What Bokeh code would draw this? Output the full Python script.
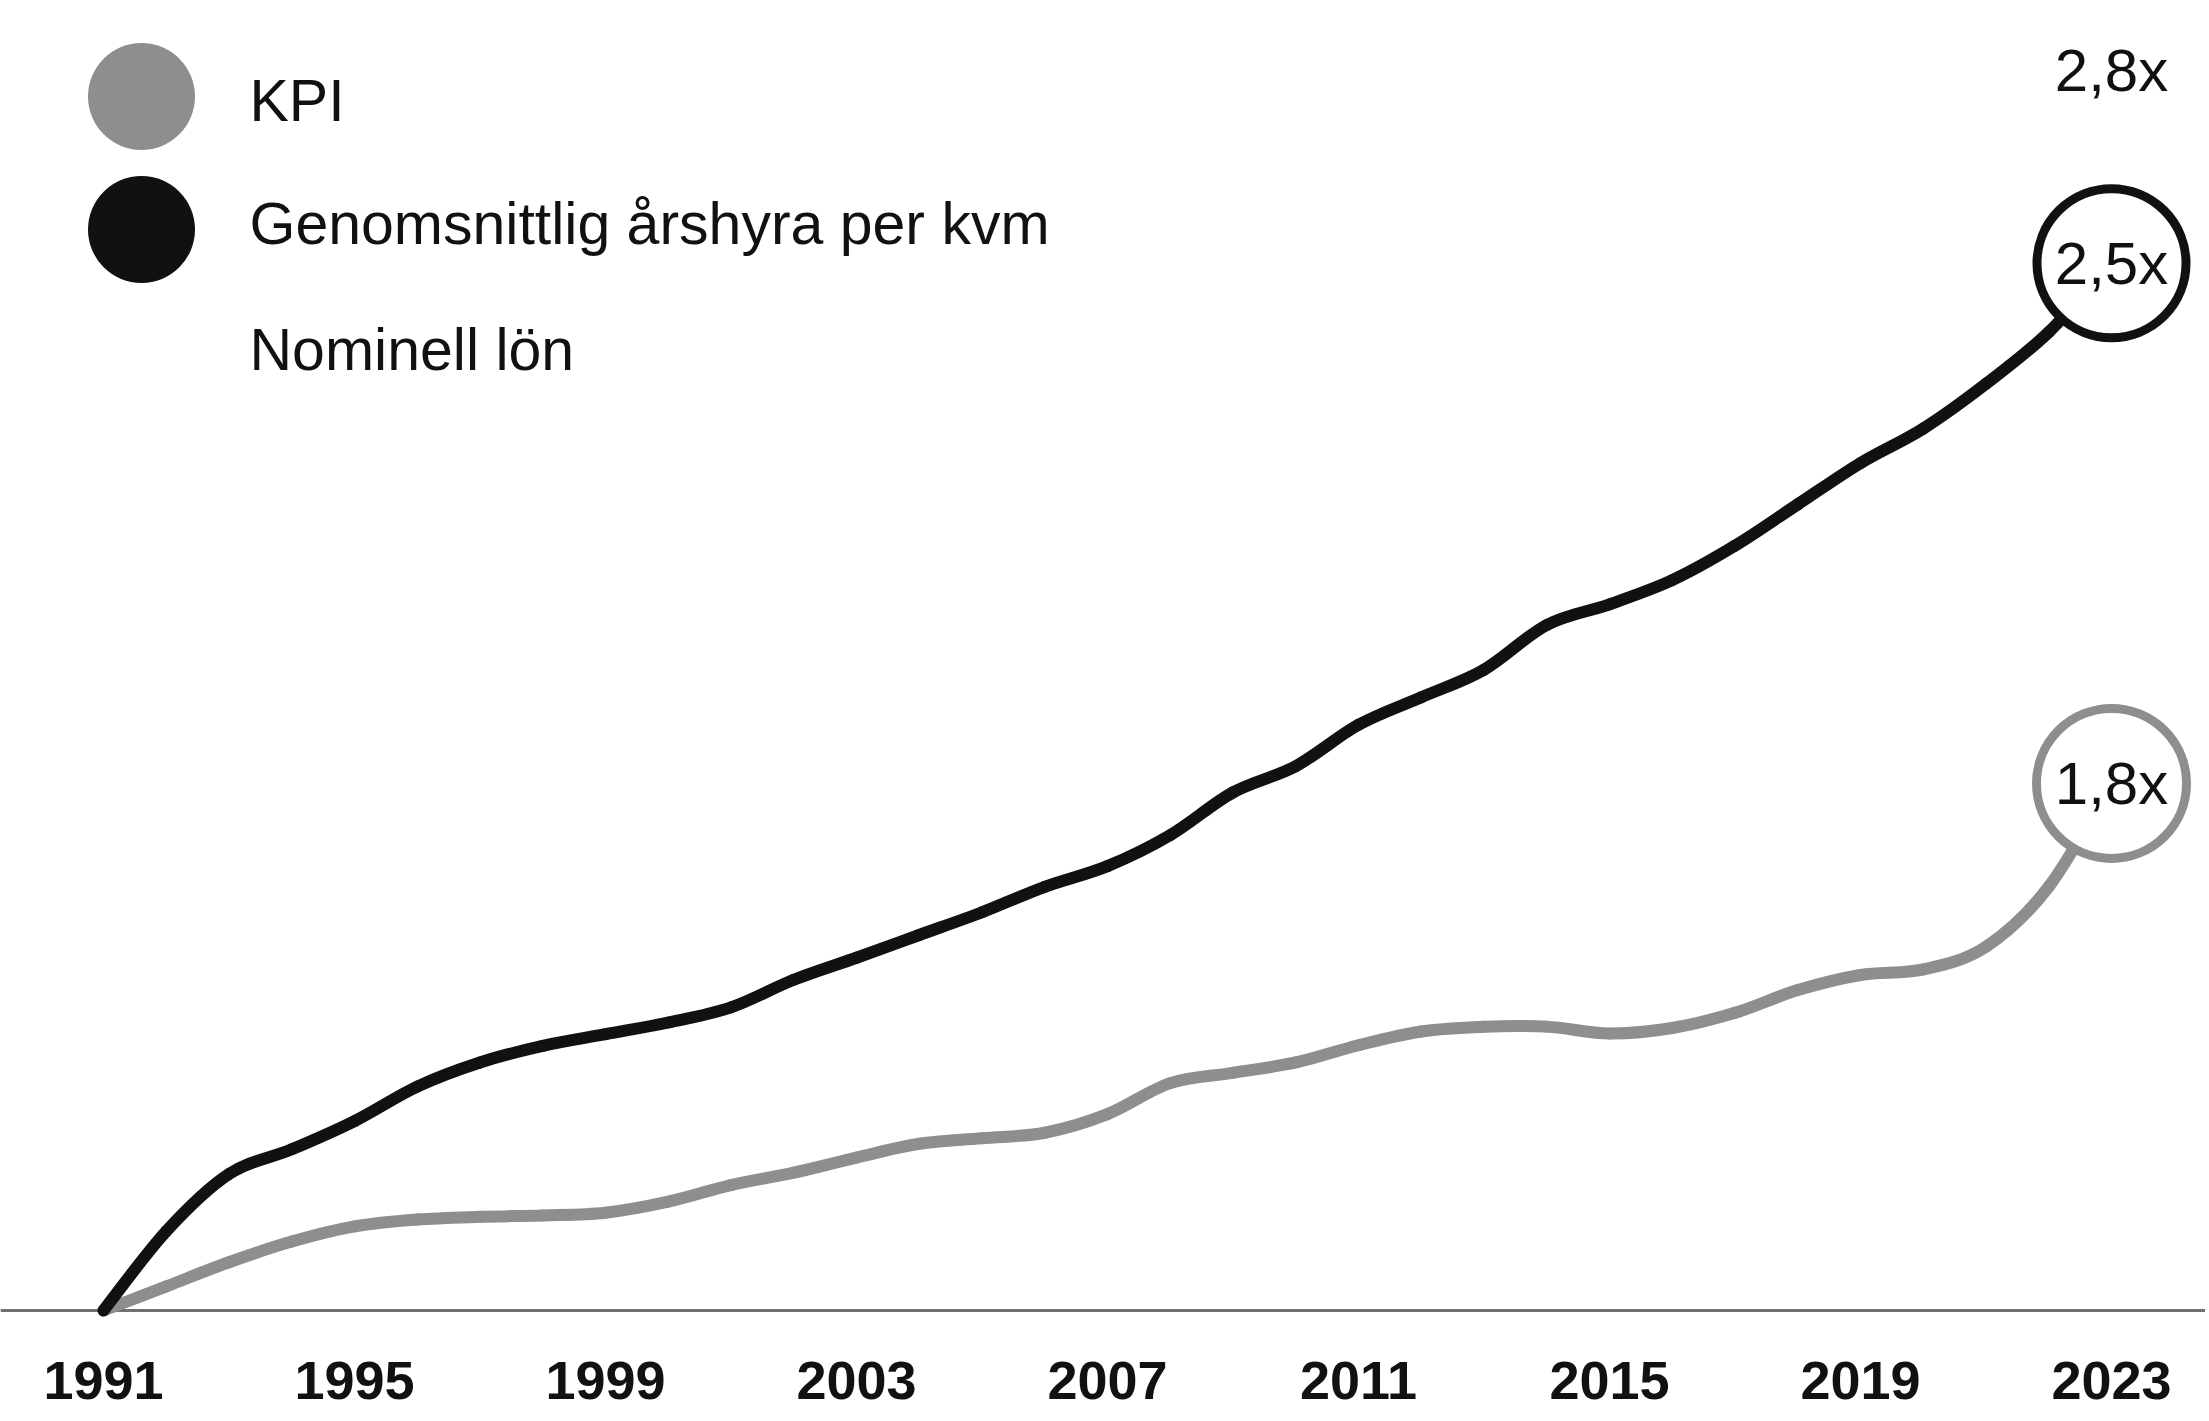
from bokeh.plotting import figure
from bokeh.models import Range1d, Span, FixedTicker
from bokeh.core.properties import value
from bokeh.embed import file_html
from bokeh.resources import INLINE

# ---------------- data ----------------
years = list(range(1991, 2024))
kpi = [1.000, 1.035, 1.070, 1.100, 1.122, 1.132, 1.136, 1.138, 1.142, 1.158,
       1.182, 1.200, 1.222, 1.242, 1.250, 1.258, 1.285, 1.330, 1.345, 1.360,
       1.385, 1.405, 1.412, 1.412, 1.402, 1.410, 1.432, 1.465, 1.487, 1.495,
       1.528, 1.615, 1.765]
rent = [1.000, 1.115, 1.198, 1.234, 1.275, 1.325, 1.360, 1.384, 1.401, 1.418,
        1.440, 1.480, 1.512, 1.545, 1.578, 1.615, 1.645, 1.690, 1.752, 1.790,
        1.850, 1.890, 1.930, 1.995, 2.025, 2.060, 2.110, 2.170, 2.230, 2.280,
        2.345, 2.420, 2.520]
wage_end = 2.80

series_names = ["KPI", "Genomsnittlig årshyra per kvm", "Nominell lön"]
end_labels = {"KPI": "1,8x", "rent": "2,5x", "wage": "2,8x"}
tick_years = [1991, 1995, 1999, 2003, 2007, 2011, 2015, 2019, 2023]

# ---------------- layout ----------------
W, H = 2205, 1418
FRAME_H = 1326
X_START, X_END = 1989.3586, 2024.498
Y_START, Y_END = 0.97678, 2.90131

BLACK = "#111111"
GREY = "#8e8e8e"
FONT = value("Liberation Sans")


def sx(px):
    return X_START + px / W * (X_END - X_START)


def sy(py):
    return Y_END - py / FRAME_H * (Y_END - Y_START)


def smooth_segments(xs, ys):
    """Catmull-Rom segments (as cubic Bezier pieces) through the data points."""
    n = len(xs)
    seg = {k: [] for k in ("x0", "y0", "x1", "y1", "cx0", "cy0", "cx1", "cy1")}
    for i in range(n - 1):
        xm, ym = xs[max(i - 1, 0)], ys[max(i - 1, 0)]
        xa, ya = xs[i], ys[i]
        xb, yb = xs[i + 1], ys[i + 1]
        xp, yp = xs[min(i + 2, n - 1)], ys[min(i + 2, n - 1)]
        seg["x0"].append(xa); seg["y0"].append(ya)
        seg["x1"].append(xb); seg["y1"].append(yb)
        seg["cx0"].append(xa + (xb - xm) / 6); seg["cy0"].append(ya + (yb - ym) / 6)
        seg["cx1"].append(xb - (xp - xa) / 6); seg["cy1"].append(yb - (yp - ya) / 6)
    return seg


p = figure(width=W, height=H, output_backend="svg", toolbar_location=None,
           x_range=Range1d(X_START, X_END), y_range=Range1d(Y_START, Y_END),
           y_axis_location=None, min_border_left=0, min_border_right=0,
           min_border_top=0, min_border_bottom=H - FRAME_H)
p.outline_line_color = None
p.grid.visible = False
p.background_fill_color = "white"
p.border_fill_color = "white"

ax = p.xaxis[0]
ax.ticker = FixedTicker(ticks=tick_years)
ax.axis_line_color = None
ax.major_tick_line_color = None
ax.minor_tick_line_color = None
ax.major_label_text_font = "Liberation Sans"
ax.major_label_text_font_style = "bold"
ax.major_label_text_font_size = "54px"
ax.major_label_text_color = BLACK
ax.major_label_standoff = 29

base = Span(location=1.0, dimension="width", line_color="#707070",
            line_width=3, level="underlay")
p.add_layout(base)

p.bezier(**smooth_segments(years, kpi), line_color=GREY, line_width=12,
         line_cap="round", line_join="round")
p.bezier(**smooth_segments(years, rent), line_color=BLACK, line_width=12,
         line_cap="round", line_join="round")

p.scatter([years[-1]], [kpi[-1]], size=150, fill_color="white",
          line_color=GREY, line_width=9)
p.scatter([years[-1]], [rent[-1]], size=149, fill_color="white",
          line_color=BLACK, line_width=9)

common = dict(text_font=FONT, text_font_size="60px", text_color=BLACK,
              text_align="center", text_baseline="middle")
p.text([years[-1]], [kpi[-1]], text=[end_labels["KPI"]], **common)
p.text([years[-1]], [rent[-1]], text=[end_labels["rent"]], **common)
p.text([years[-1]], [wage_end], text=[end_labels["wage"]], **common)

# legend (drawn by hand to match the large markers)
p.scatter([sx(141)], [sy(96)], size=107, fill_color=GREY, line_color=None)
p.scatter([sx(141)], [sy(229)], size=107, fill_color=BLACK, line_color=None)
leg_y = [sy(100), sy(223), sy(349)]
p.text([sx(249)] * 3, leg_y, text=series_names, text_font=FONT,
       text_font_size="59px", text_color=BLACK, text_align="left",
       text_baseline="middle")

open("out.html", "w").write(file_html(p, INLINE))
